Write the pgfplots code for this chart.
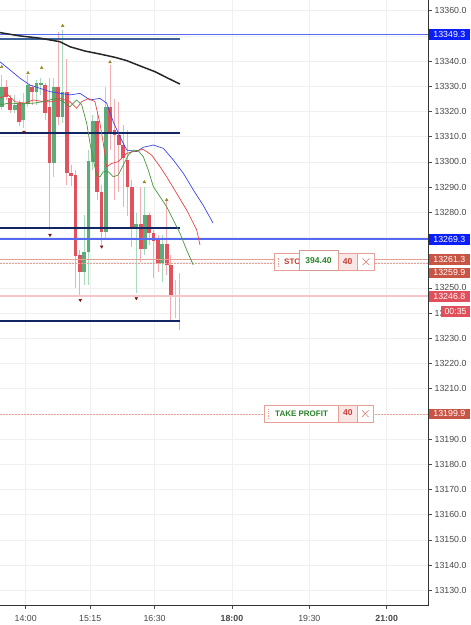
\documentclass[border=0pt]{standalone}
\usepackage{pgfplots}
\pgfplotsset{compat=1.18}
\usepackage{pgfplotstable}
\usepackage{fontspec}
\setmainfont{Liberation Sans}
\definecolor{cred}{RGB}{226,82,92}
\definecolor{cgreen}{RGB}{92,172,122}
\definecolor{wred}{RGB}{242,172,178}
\definecolor{wgreen}{RGB}{168,218,188}
\definecolor{hblue}{RGB}{85,105,242}
\definecolor{navy}{RGB}{18,38,100}
\definecolor{steel}{RGB}{60,95,150}
\definecolor{mablue}{RGB}{60,70,235}
\definecolor{mared}{RGB}{230,70,70}
\definecolor{magreen}{RGB}{70,150,60}
\definecolor{lblblue}{RGB}{10,30,250}
\definecolor{lblord}{RGB}{200,84,68}
\definecolor{lblcur}{RGB}{224,80,90}
\definecolor{ordb}{RGB}{232,160,150}
\definecolor{ordred}{RGB}{200,60,50}
\definecolor{ordgreen}{RGB}{40,130,40}
\definecolor{upmk}{RGB}{150,135,30}
\definecolor{dnmk}{RGB}{120,20,20}

% candles: t = minutes from 14:00, prices o h l c
\pgfplotstableread{
t o h l c
-22.9 13329.7 13332.5 13324.6 13325.8
-17.8 13325.4 13326.6 13319.4 13320.6
-7.7 13323.4 13324.6 13314.3 13315.8
7.4 13329.7 13330.5 13322.6 13327.7
22.6 13330.5 13331.3 13316.6 13319.4
27.6 13321.8 13333.3 13273.0 13299.6
37.7 13329.7 13351.5 13314.7 13317.8
47.8 13327.7 13340.8 13290.8 13295.6
52.9 13295.6 13298.8 13290.4 13294.4
57.9 13294.8 13296.8 13250.0 13262.7
63.0 13263.1 13265.0 13246.4 13256.3
83.2 13316.2 13319.4 13284.9 13288.1
88.2 13288.1 13290.8 13267.0 13272.2
98.3 13321.8 13338.5 13304.7 13311.9
103.4 13312.7 13325.0 13284.9 13310.7
108.4 13310.7 13324.0 13288.1 13306.7
113.5 13306.7 13314.7 13282.1 13301.6
118.5 13300.8 13312.7 13278.5 13290.0
123.6 13290.0 13292.8 13266.4 13274.2
133.7 13275.4 13290.0 13260.3 13265.4
143.8 13278.9 13279.7 13267.0 13271.8
148.8 13271.8 13273.0 13253.9 13268.6
153.9 13269.0 13271.0 13256.3 13259.9
164.0 13267.4 13284.9 13255.1 13259.1
169.0 13259.1 13263.1 13237.3 13247.2
179.1 13247.1 13255.9 13233.3 13246.8
}\redtab
\pgfplotstableread{
t o h l c
-27.9 13321.8 13334.5 13320.6 13329.7
-12.8 13320.6 13326.6 13319.4 13322.6
-2.7 13316.6 13327.3 13313.5 13323.4
2.4 13323.4 13334.5 13321.8 13330.5
12.5 13327.7 13332.5 13322.6 13331.3
17.5 13330.9 13333.3 13326.6 13331.3
32.7 13299.6 13333.3 13294.0 13329.7
42.8 13317.8 13352.3 13315.4 13327.7
68.0 13256.3 13278.9 13251.2 13264.3
73.1 13264.3 13304.7 13251.2 13300.4
78.1 13300.0 13318.6 13296.8 13316.2
93.3 13272.2 13330.0 13269.0 13321.8
128.6 13274.2 13279.7 13248.0 13275.4
138.7 13265.4 13290.0 13263.1 13278.9
158.9 13259.9 13271.0 13252.4 13267.4
174.1 13247.0 13253.1 13238.1 13247.1
}\greentab

\pgfplotstableread{
t p
-29.9 13351.3
-6.6 13350.0
16.6 13349.1
39.9 13347.7
51.5 13345.7
69.0 13344.0
86.4 13342.8
103.9 13341.5
117.5 13340.2
133.0 13338.1
150.5 13335.8
165.6 13333.2
179.5 13330.9
}\blackma
\pgfplotstableread{
t p
-29.9 13339.7
-18.3 13336.5
-6.6 13333.2
5.0 13330.5
16.6 13329.2
28.3 13327.9
39.9 13327.2
51.5 13326.6
63.2 13327.2
74.8 13324.6
86.4 13325.2
94.2 13323.3
101.9 13315.9
109.7 13310.0
117.5 13304.7
129.1 13304.1
136.8 13305.8
148.5 13306.7
160.1 13305.4
171.7 13300.8
183.4 13295.5
195.0 13288.9
206.3 13282.9
217.9 13275.8
}\bluema
\pgfplotstableread{
t p
-29.9 13325.4
-20.6 13326.6
-12.4 13323.9
-0.8 13323.3
8.8 13324.6
20.5 13323.9
32.1 13323.9
39.9 13325.2
51.5 13323.9
59.3 13321.3
65.2 13323.9
72.8 13325.2
80.6 13323.9
86.4 13315.3
90.3 13307.4
94.2 13298.1
100.1 13299.4
107.7 13300.1
117.5 13303.4
125.2 13304.1
136.8 13305.0
146.6 13302.7
156.3 13298.1
164.0 13294.1
175.7 13287.5
187.3 13280.9
199.0 13273.0
202.8 13267.0
}\redma
\pgfplotstableread{
t p
-29.9 13322.6
-18.3 13323.4
-6.6 13323.0
8.8 13323.3
20.5 13323.9
28.3 13324.6
36.1 13325.2
43.7 13323.9
51.5 13321.9
59.3 13324.6
65.2 13322.6
71.0 13315.3
74.8 13307.4
78.7 13300.8
82.6 13294.8
86.4 13294.1
90.3 13296.1
96.1 13296.1
101.9 13294.1
107.7 13294.8
113.6 13298.8
119.4 13302.7
125.2 13304.7
131.0 13304.4
136.8 13302.1
142.6 13296.8
148.5 13290.2
156.3 13286.2
164.0 13282.2
169.9 13278.2
179.5 13271.7
187.3 13265.0
195.0 13259.1
}\greenma

\begin{document}
\fontsize{8.8}{10}\selectfont
\begin{tikzpicture}
\path[use as bounding box] (0,0) rectangle (471pt,625pt);
\begin{axis}[
  at={(0pt,19.3pt)}, anchor=south west,
  scale only axis, width=428pt, height=605.7pt,
  xmin=-29.9, xmax=468.1, ymin=13123.9, ymax=13364.25,
  axis x line*=bottom, axis y line*=right,
  axis line style={draw=black!80, line width=0.9pt, -},
  xtick={0,75,150,240,330,420},
  xticklabels={14:00,15:15,16:30,\textbf{18:00},19:30,\textbf{21:00}},
  ytick={13130,13140,13150,13160,13170,13180,13190,13200,13210,13220,13230,13240,13250,13260,13270,13280,13290,13300,13310,13320,13330,13340,13350,13360},
  scaled y ticks=false, scaled x ticks=false,
  /pgf/number format/assume math mode=true,
  y tick label style={/pgf/number format/fixed, /pgf/number format/fixed zerofill, /pgf/number format/precision=1, /pgf/number format/1000 sep={}},
  x tick label style={yshift=-3pt},
  tick label style={text=black!72, font=\fontsize{8.8}{10}\selectfont},
  tick align=outside, major tick length=3.5pt,
  tick style={draw=black!70, line width=0.6pt},
  grid=major, major grid style={draw=black!6, line width=0.6pt},
]
% wicks
\addplot[draw=none, mark=none, forget plot, error bars/.cd, y dir=both, y explicit, error mark=none,
  error bar style={draw=wred, line width=0.9pt}]
  table[x=t, y expr={(\thisrow{h}+\thisrow{l})/2}, y error expr={(\thisrow{h}-\thisrow{l})/2}] {\redtab};
\addplot[draw=none, mark=none, forget plot, error bars/.cd, y dir=both, y explicit, error mark=none,
  error bar style={draw=wgreen, line width=0.9pt}]
  table[x=t, y expr={(\thisrow{h}+\thisrow{l})/2}, y error expr={(\thisrow{h}-\thisrow{l})/2}] {\greentab};
% bodies
\addplot[draw=none, mark=none, forget plot, error bars/.cd, y dir=both, y explicit, error mark=none,
  error bar style={draw=cred, line width=3.8pt}]
  table[x=t, y expr={(\thisrow{o}+\thisrow{c})/2}, y error expr={max(abs(\thisrow{o}-\thisrow{c})/2,0.3)}] {\redtab};
\addplot[draw=none, mark=none, forget plot, error bars/.cd, y dir=both, y explicit, error mark=none,
  error bar style={draw=cgreen, line width=3.8pt}]
  table[x=t, y expr={(\thisrow{o}+\thisrow{c})/2}, y error expr={max(abs(\thisrow{o}-\thisrow{c})/2,0.3)}] {\greentab};
% horizontal levels
\addplot[draw=wred!70, line width=1.2pt] coordinates {(-29.9,13246.8) (468.1,13246.8)};
\addplot[draw=ordb, line width=0.8pt] coordinates {(-29.9,13261.3) (468.1,13261.3)};
\addplot[draw=ordb, line width=0.8pt, dash pattern=on 1.5pt off 1.5pt] coordinates {(-29.9,13259.9) (468.1,13259.9)};
\addplot[draw=ordb, line width=0.8pt, dash pattern=on 1.5pt off 1.5pt] coordinates {(-29.9,13199.9) (468.1,13199.9)};
\addplot[draw=hblue, line width=1.6pt] coordinates {(-29.9,13350.5) (468.1,13350.5)};
\addplot[draw=hblue, line width=1.6pt] coordinates {(-29.9,13269.3) (468.1,13269.3)};
\addplot[draw=steel, line width=1.6pt] coordinates {(-29.9,13348.7) (179.7,13348.7)};
\addplot[draw=navy, line width=1.5pt] coordinates {(-29.9,13311.5) (179.7,13311.5)};
\addplot[draw=navy, line width=1.5pt] coordinates {(-29.9,13273.8) (179.7,13273.8)};
\addplot[draw=navy, line width=1.5pt] coordinates {(-29.9,13236.9) (179.7,13236.9)};
% moving averages
\addplot[draw=black!85, line width=1.5pt, line join=round] table[x=t,y=p] {\blackma};
\addplot[draw=mablue, line width=0.7pt, line join=round] table[x=t,y=p] {\bluema};
\addplot[draw=mared, line width=0.7pt, line join=round] table[x=t,y=p] {\redma};
\addplot[draw=magreen, line width=0.7pt, line join=round] table[x=t,y=p] {\greenma};
% fractal markers
\addplot[only marks, mark=triangle*, mark size=1.6pt, color=upmk] coordinates {
(-27.9,13337.7) (2.7,13335.3) (18.6,13337.3) (43.0,13354.0) (98.1,13339.6) (138.0,13292.0) (164.0,13284.9)};
\addplot[only marks, mark=triangle*, mark size=1.6pt, color=dnmk, mark options={rotate=180}] coordinates {
(-2.0,13311.9) (28.3,13271.0) (63.5,13245.2) (88.4,13266.4) (128.7,13245.9)};
% anchors for labels
\coordinate (l1) at (axis cs:468.1,13350.5);
\coordinate (l2) at (axis cs:468.1,13269.3);
\coordinate (l3) at (axis cs:468.1,13261.3);
\coordinate (l4) at (axis cs:468.1,13256.0);
\coordinate (l5) at (axis cs:468.1,13246.5);
\coordinate (l6) at (axis cs:468.1,13240.6);
\coordinate (l7) at (axis cs:468.1,13200.0);
\coordinate (sl) at (axis cs:288.9,13260.4);
\coordinate (tp) at (axis cs:277.3,13200.1);
\end{axis}
\tikzset{lbl/.style={anchor=west, inner sep=0pt, minimum height=10.5pt, minimum width=41.7pt, text=white, font=\fontsize{8.8}{10}\selectfont}}
\node[lbl, fill=lblblue] at ([xshift=0.3pt]l1) {13349.3};
\node[lbl, fill=lblblue] at ([xshift=0.3pt]l2) {13269.3};
\node[lbl, fill=lblord] at ([xshift=0.3pt]l3) {13261.3};
\node[lbl, fill=lblord] at ([xshift=0.3pt]l4) {13259.9};
\node[lbl, fill=lblcur] at ([xshift=0.3pt]l5) {13246.8};
\node[lbl, fill=lblcur, minimum width=29.3pt] at ([xshift=12.7pt]l6) {00:35};
\node[lbl, fill=lblord] at ([xshift=0.3pt]l7) {13199.9};
% stop box
\begin{scope}[shift={(sl)}]
\draw[ordb, fill=white, line width=0.7pt] (0,-8.3pt) rectangle (100pt,8.3pt);
\draw[ordb, densely dotted, line width=0.7pt] (4.3pt,-5pt) -- (4.3pt,5pt);
\node[anchor=west, inner sep=0pt, text=ordred, font=\bfseries\fontsize{8}{9}\selectfont] at (10pt,-0.3pt) {STOP LOSS};
\draw[ordb!80!gray, fill=white, line width=0.6pt] (25pt,-8.3pt) rectangle (64pt,11pt);
\node[inner sep=0pt, text=ordgreen, font=\bfseries\fontsize{8.5}{9}\selectfont] at (44.5pt,1.2pt) {394.40};
\draw[ordb, fill=ordb!25, line width=0.6pt] (64pt,-8.3pt) rectangle (83.3pt,8.3pt);
\node[inner sep=0pt, text=ordred, font=\bfseries\fontsize{8.5}{9}\selectfont] at (73.6pt,0.6pt) {40};
\draw[ordb, line width=0.6pt] (83.3pt,-8.3pt) rectangle (100pt,8.3pt);
\draw[ordred!70, line width=0.5pt] (88.6pt,-3.4pt) -- (95.4pt,3.4pt) (88.6pt,3.4pt) -- (95.4pt,-3.4pt);
\end{scope}
% take profit box
\begin{scope}[shift={(tp)}]
\draw[ordb, fill=white, line width=0.7pt] (0,-8.6pt) rectangle (109.3pt,8.6pt);
\draw[ordb, densely dotted, line width=0.7pt] (4.3pt,-5pt) -- (4.3pt,5pt);
\node[anchor=west, inner sep=0pt, text=ordgreen, font=\bfseries\fontsize{8}{9}\selectfont] at (11pt,0.3pt) {TAKE PROFIT};
\draw[ordb, fill=ordb!25, line width=0.6pt] (74.3pt,-8.6pt) rectangle (93.3pt,8.6pt);
\node[inner sep=0pt, text=ordred, font=\bfseries\fontsize{8.5}{9}\selectfont] at (83.8pt,0.6pt) {40};
\draw[ordb, line width=0.6pt] (93.3pt,-8.6pt) rectangle (109.3pt,8.6pt);
\draw[ordred!70, line width=0.5pt] (98pt,-3.4pt) -- (104.6pt,3.4pt) (98pt,3.4pt) -- (104.6pt,-3.4pt);
\end{scope}
\end{tikzpicture}
\end{document}
